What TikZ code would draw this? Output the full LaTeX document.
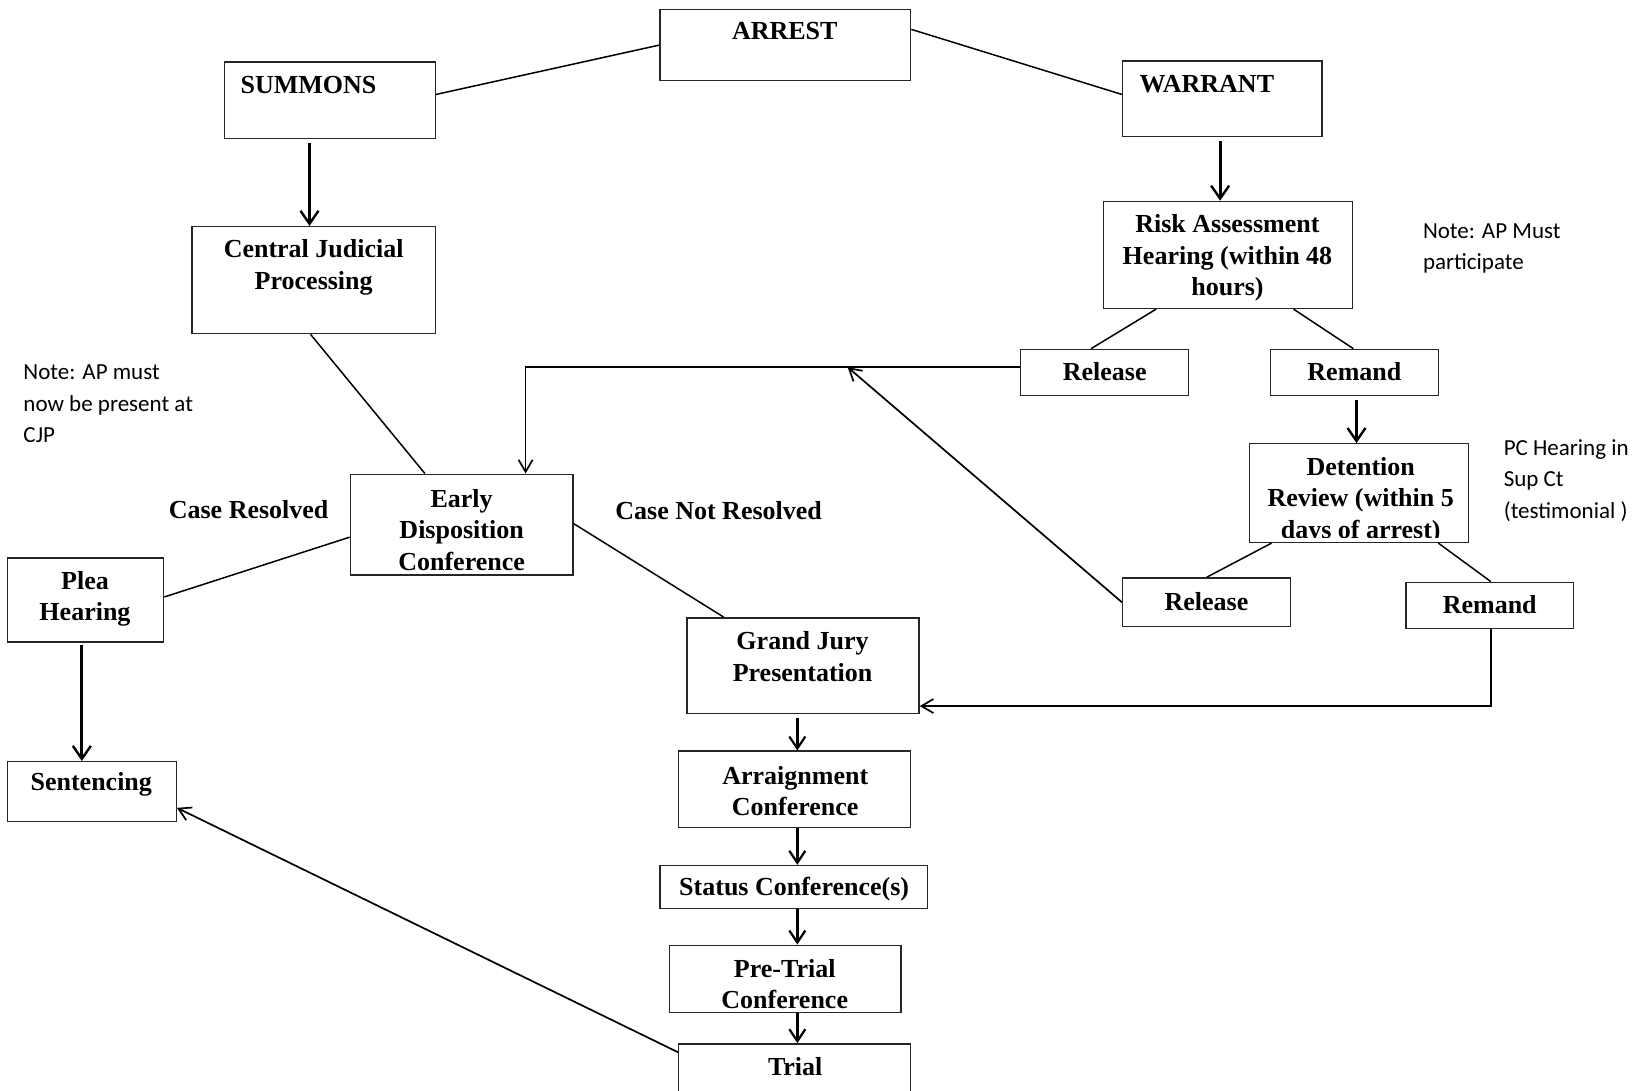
\documentclass[tikz,border=0pt]{standalone}
\usepackage{fontspec}
\setmainfont{Liberation Serif}
\newfontfamily\notefont{Carlito}
\usetikzlibrary{fit,arrows.meta}
\tikzset{
  boxst/.style={draw=black!85, line width=0.7pt, inner sep=0pt, rectangle},
  txt/.style={font=\bfseries\fontsize{13}{15.7}\selectfont, inner sep=0pt, align=center},
  note/.style={font=\notefont\fontsize{11.5}{15.7}\selectfont, inner sep=0pt, align=left, anchor=west},
  ln/.style={line width=0.75pt},
  thk/.style={line width=1.4pt, -{Straight Barb[length=6.5pt,width=9pt,line width=1.2pt]}},
  thm/.style={line width=1.2pt, -{Straight Barb[length=6pt,width=8pt,line width=1.1pt]}},
  arr/.style={line width=0.85pt, -{Straight Barb[length=6pt,width=7pt,line width=0.85pt]}}
}
\newcommand\mkbox[5]{\node[boxst, fit={(#2,#3) (#4,#5)}] (#1) {};}
\begin{document}
\begin{tikzpicture}[x=0.5245pt,y=-0.5245pt]
\useasboundingbox (0,0) rectangle (1568,1039);
% boxes
\mkbox{arrest}{629}{9}{868}{77}
\mkbox{summons}{214}{59}{415}{132}
\mkbox{warrant}{1070}{58}{1260}{130}
\mkbox{risk}{1052}{192}{1289}{294}
\mkbox{cjp}{183}{216}{415}{318}
\mkbox{rel1}{973}{333}{1133}{377}
\mkbox{rem1}{1211}{333}{1371}{377}
\mkbox{det}{1191}{423}{1400}{517}
\mkbox{edc}{334}{452}{546}{548}
\mkbox{plea}{7}{532}{156}{612}
\mkbox{rel2}{1070}{551}{1230}{597}
\mkbox{rem2}{1340}{555}{1500}{599}
\mkbox{gjp}{655}{589}{876}{680}
\mkbox{arrc}{647}{716}{868}{789}
\mkbox{sent}{7}{726}{168}{783}
\mkbox{stat}{629}{825}{884}{866}
\mkbox{pre}{638}{901}{859}{965}
\mkbox{trial}{647}{995}{868}{1050}
% texts
\node[txt] (tarrest) at (748,30) {ARREST};
\node[txt, anchor=west] (tsummons) at (229,81) {SUMMONS};
\node[txt, anchor=west] (twarrant) at (1086,80) {WARRANT};
\node[txt] (trisk) at (1170,246) {Risk Assessment\\Hearing (within 48\\hours)};
\node[txt] (tcjp) at (299,255) {Central Judicial\\Processing};
\node[txt] (trel1) at (1053,354) {Release};
\node[txt] (trem1) at (1291,354) {Remand};
\node[txt] (tdet) at (1297,462) {Detention\\Review (within 5};
\begin{scope}
\clip (1191,423) rectangle (1400,512);
\node[txt] (tdet3) at (1297,507) {days of arrest)};
\end{scope}
\node[txt] (tedc) at (440,505) {Early\\Disposition\\Conference};
\node[txt] (tplea) at (81,571) {Plea\\Hearing};
\node[txt] (trel2) at (1150,573) {Release};
\node[txt] (trem2) at (1420,576) {Remand};
\node[txt] (tgjp) at (765,626) {Grand Jury\\Presentation};
\node[txt] (tarrc) at (758,754) {Arraignment\\Conference};
\node[txt] (tsent) at (87,748) {Sentencing};
\node[txt] (tstat) at (757,847) {Status Conference(s)};
\node[txt] (tpre) at (748,938) {Pre-Trial\\Conference};
\node[txt] (ttrial) at (758,1017) {Trial};
\node[txt] (lres) at (237,486) {Case Resolved};
\node[txt] (lnres) at (685,487) {Case Not Resolved};
% notes
\node[note] (n1) at (1356,237) {Note: AP Must\\participate};
\node[note] (n2) at (22,385) {Note: AP must\\now be present at\\CJP};
\node[note] (n3) at (1433,458) {PC Hearing in\\Sup Ct\\(testimonial )};
% connectors
\draw[ln] (arrest.west) -- (summons.east |- 0,90);
\draw[ln] (arrest.east |- 0,28) -- (warrant.west |- 0,90);
\draw[thk] ([yshift=-2pt]summons.south -| 295,0) -- (cjp.north -| 295,0);
\draw[thk] ([yshift=-2pt]warrant.south -| 1163,0) -- (risk.north -| 1163,0);
\draw[ln] (risk.south -| 1102,0) -- (rel1.north -| 1040,0);
\draw[ln] (risk.south -| 1233,0) -- (rem1.north -| 1290,0);
\draw[thk] ([yshift=-2pt]rem1.south -| 1293,0) -- (det.north -| 1293,0);
\draw[ln] (det.south -| 1212,0) -- (rel2.north -| 1150,0);
\draw[ln] (det.south -| 1371,0) -- (rem2.north -| 1421,0);
\draw[ln] (cjp.south -| 296,0) -- (edc.north -| 405,0);
\draw[arr] (rel1.west |- 0,350) -| (edc.north -| 501,0);
\coordinate (mid) at (808,350);
\draw[arr] (rel2.west) -- (mid);
\draw[arr] (rem2.south -| 1421,0) |- (gjp.east |- 0,673);
\draw[ln] (edc.west |- 0,512) -- (plea.east |- 0,569);
\draw[ln] (edc.east |- 0,499) -- (gjp.north -| 690,0);
\draw[thk] ([yshift=-1pt]plea.south -| 78,0) -- (sent.north -| 78,0);
\draw[thm] ([yshift=-2pt]gjp.south -| 760,0) -- (arrc.north -| 760,0);
\draw[thm] (arrc.south -| 760,0) -- (stat.north -| 760,0);
\draw[thm] (stat.south -| 760,0) -- (pre.north -| 760,0);
\draw[thm] (pre.south -| 760,0) -- (trial.north -| 760,0);
\draw[arr] (trial.west |- 0,1003) -- (sent.east |- 0,770);
\end{tikzpicture}
\end{document}
